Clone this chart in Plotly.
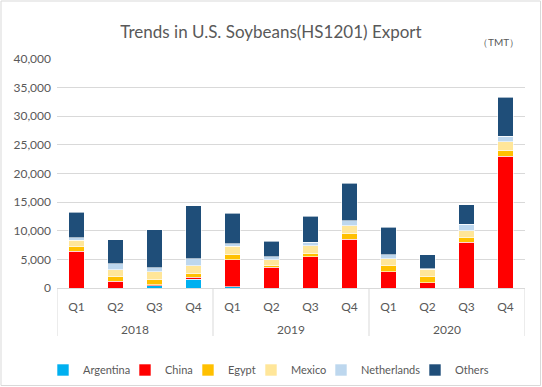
import plotly.graph_objects as go

years = ["2018"] * 4 + ["2019"] * 4 + ["2020"] * 4
quarters = ["Q1", "Q2", "Q3", "Q4"] * 3
year_labels = ["2018", "2019", "2020"]

argentina = [0, 0, 400, 1500, 250, 0, 0, 0, 0, 0, 0, 0]
china = [6400, 1150, 200, 400, 4700, 3600, 5500, 8550, 2850, 900, 8000, 23000]
egypt = [900, 850, 900, 700, 950, 300, 550, 1000, 1000, 1100, 800, 1000]
mexico = [1000, 1200, 1300, 1300, 1400, 1050, 1350, 1350, 1250, 1250, 1200, 1550]
netherlands = [500, 1000, 700, 1200, 400, 550, 600, 850, 700, 100, 1100, 950]
others = [4400, 4200, 6700, 9300, 5400, 2700, 4500, 6550, 4800, 2500, 3400, 6800]

series = [
    ("Argentina", argentina, "#00B0F0"),
    ("China", china, "#FF0000"),
    ("Egypt", egypt, "#FFC000"),
    ("Mexico", mexico, "#FFE699"),
    ("Netherlands", netherlands, "#BDD7EE"),
    ("Others", others, "#1F4E79"),
]

FONT = "Lato, Calibri, Carlito, 'Noto Sans', sans-serif"
GRAY = "#595959"
LINE = "#D9D9D9"

W, H = 542, 387
L, R, T, B = 57, 17, 59, 99
pw, ph = W - L - R, H - T - B

cats = [f"{y} {q}" for y, q in zip(years, quarters)]

# legend symbol centres (px) for each entry, one legend per series
legend_centres = [63, 145, 208, 271, 341, 435]
legend_keys = ["legend", "legend2", "legend3", "legend4", "legend5", "legend6"]

fig = go.Figure()
for (name, vals, color), lk in zip(series, legend_keys):
    fig.add_trace(go.Bar(
        x=cats, y=vals, name=name, legend=lk,
        marker=dict(color=color, line=dict(color="white", width=0.6)),
    ))

legends = {}
for lk, c in zip(legend_keys, legend_centres):
    legends[lk] = dict(orientation="h", xref="container", yref="container",
                       x=(c - 20) / W, xanchor="left", y=1 - 370 / H, yanchor="middle",
                       font=dict(family=FONT, size=11, color=GRAY),
                       itemwidth=30, bgcolor="rgba(0,0,0,0)", borderwidth=0)

# year group labels and dividers below the axis
annotations = [dict(text="（TMT）", xref="paper", yref="paper",
                    x=(498 - L) / pw, y=(H - 42 - B) / ph, showarrow=False,
                    xanchor="center", yanchor="middle",
                    font=dict(family=FONT, size=10, color=GRAY))]
n_per_year = 4
for i, yl in enumerate(year_labels):
    annotations.append(dict(text=yl, xref="x", yref="paper",
                            x=i * n_per_year + (n_per_year - 1) / 2, y=-(329 - 288) / ph,
                            showarrow=False, xanchor="center", yanchor="middle",
                            font=dict(family=FONT, size=12, color=GRAY)))

shapes = [dict(type="rect", xref="paper", yref="paper",
               x0=(1 - L) / pw, x1=(W - 1.5 - L) / pw,
               y0=-(B - 1.5) / ph, y1=(H - 1 - B) / ph,
               line=dict(color=LINE, width=1), fillcolor="rgba(0,0,0,0)", layer="below")]
for k in range(len(year_labels) + 1):
    xb = k * n_per_year - 0.5
    shapes.append(dict(type="line", xref="x", yref="paper", x0=xb, x1=xb,
                       y0=0, y1=-(336 - 288) / ph, line=dict(color=LINE, width=1)))

fig.update_layout(
    width=W, height=H,
    barmode="stack", bargap=0.6,
    margin=dict(l=L, r=R, t=T, b=B, pad=0, autoexpand=False),
    paper_bgcolor="white", plot_bgcolor="white",
    font=dict(family=FONT, size=12, color=GRAY),
    title=dict(text="Trends in U.S. Soybeans(HS1201) Export", x=0.5, xanchor="center",
               xref="container", y=1 - 32 / H, yanchor="middle",
               font=dict(family=FONT, size=17, color=GRAY), automargin=False),
    xaxis=dict(type="category", categoryorder="array", categoryarray=cats,
               tickvals=cats, ticktext=quarters,
               showline=True, linecolor=LINE, linewidth=1, showgrid=False,
               tickfont=dict(family=FONT, size=12, color=GRAY), ticks="",
               ticklabelstandoff=8, automargin=False, range=[-0.5, len(cats) - 0.5]),
    yaxis=dict(range=[0, 40000], dtick=5000, tickformat=",", showgrid=True,
               gridcolor=LINE, gridwidth=1, zeroline=False, showline=False,
               tickfont=dict(family=FONT, size=12, color=GRAY), ticks="",
               ticklabelstandoff=5, automargin=False),
    showlegend=True,
    annotations=annotations,
    shapes=shapes,
    **legends,
)

fig.write_html("out.html", config={"displayModeBar": False},
               post_script="document.body.style.margin='0';")
